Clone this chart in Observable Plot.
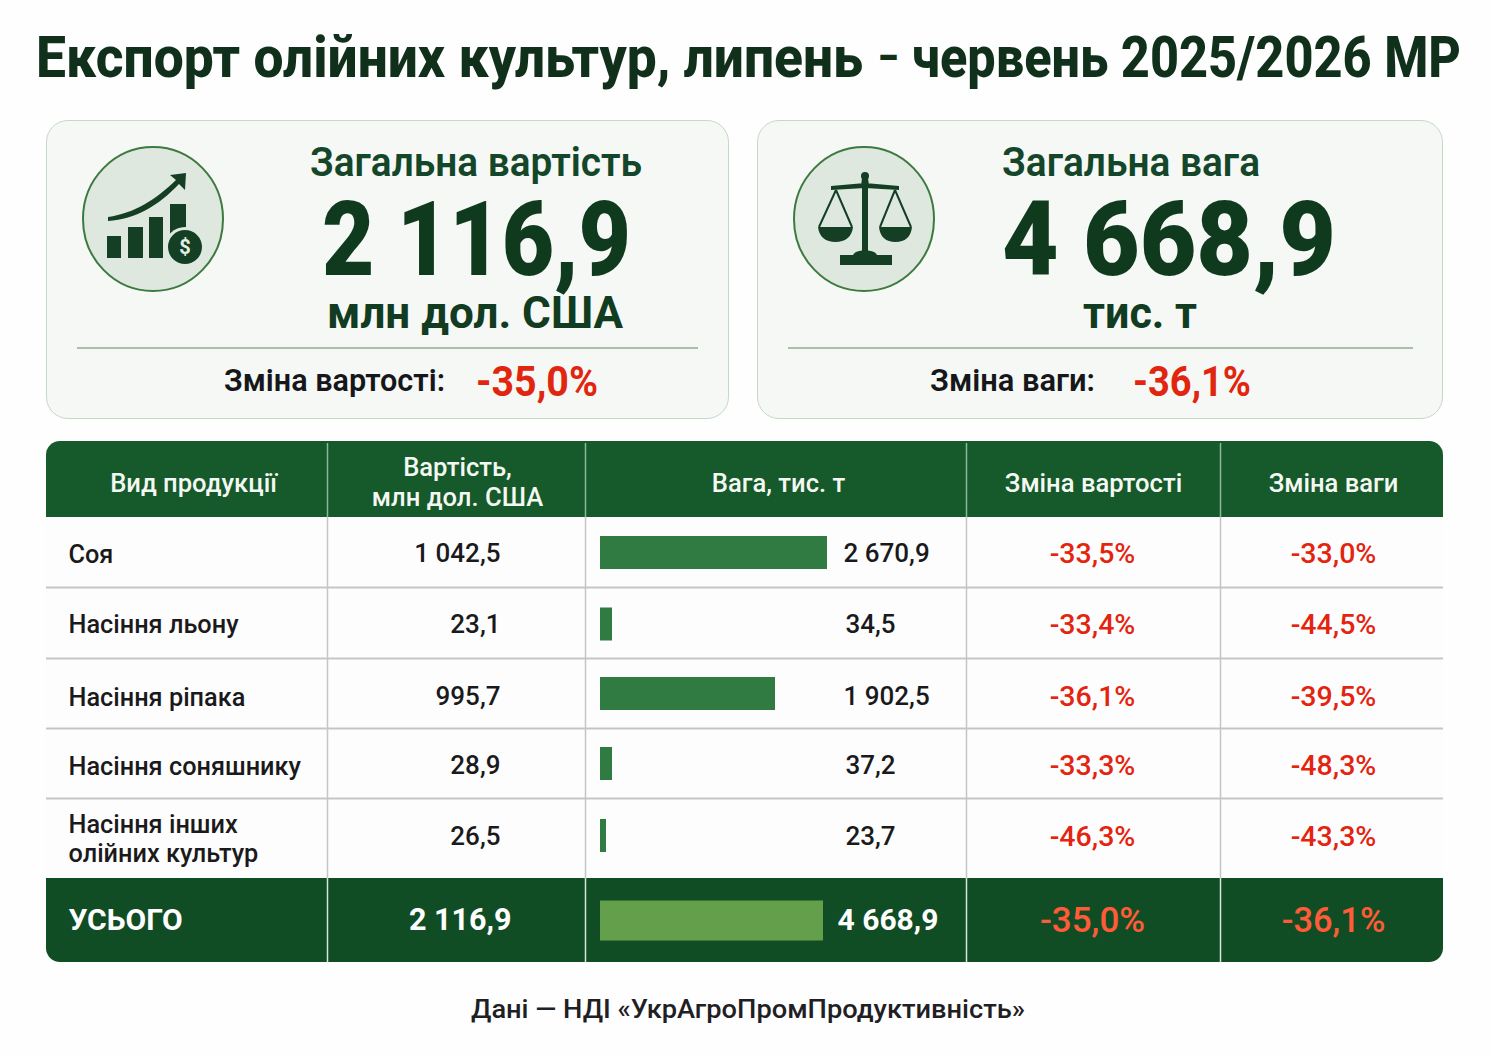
<!DOCTYPE html>
<html lang="uk"><head><meta charset="utf-8">
<script src="https://cdn.jsdelivr.net/npm/d3@7"></script>
<script src="https://cdn.jsdelivr.net/npm/@observablehq/plot@0.6"></script>
<style>
html,body{margin:0;padding:0;background:#fefefe;width:1491px;height:1055px;overflow:hidden;font-family:Roboto,sans-serif}
#page{position:relative;width:1491px;height:1055px}
.t{position:absolute;white-space:nowrap;transform-origin:left center;line-height:1}
.card{position:absolute;box-sizing:border-box;background:#f5f8f4;border:1.5px solid #c6d8c6;border-radius:22px}
.sep{position:absolute;height:1.5px;background:#a9bfa9}
#table{position:absolute;left:46px;top:441px;width:1397px;height:521px;border-radius:14px;overflow:hidden}
#table svg{display:block}
.icon{position:absolute;left:0;top:0}
</style></head><body><div id="page"></div>
<script>
// Categories and values
const products = ["Соя","Насіння льону","Насіння ріпака","Насіння соняшнику","Насіння інших\nолійних культур"];
const values = ["1 042,5","23,1","995,7","28,9","26,5"];
const weights = ["2 670,9","34,5","1 902,5","37,2","23,7"];
const barLengths = [227,12,175,12,6];     // bar lengths as drawn in the picture (they are not proportional to the labels)
const valueChanges = ["-33,5%","-33,4%","-36,1%","-33,3%","-46,3%"];
const weightChanges = ["-33,0%","-44,5%","-39,5%","-48,3%","-43,3%"];
const totalLabel = "УСЬОГО", totalValue = "2 116,9", totalWeight = "4 668,9", totalBar = 223, totalValueChange = "-35,0%", totalWeightChange = "-36,1%";
const headers = ["Вид продукції","Вартість,\nмлн дол. США","Вага, тис. т","Зміна вартості","Зміна ваги"];

// Layout of the table, separate from the data
const rowHeights = [76,70,71,70,70,80,84];
const rowEdges = d3.cumsum([0,...rowHeights]);
const tableW = 1397, tableH = 521, barOrigin = 554;
const colEdges = [281,539,920,1174].map(d => d - barOrigin);
const anchors = {name:22-barOrigin, value:454-barOrigin, weight:797-barOrigin, total:465-barOrigin, vc:1046-barOrigin, wc:1287-barOrigin, head:[147-barOrigin,411-barOrigin,732-barOrigin,1047-barOrigin,1287-barOrigin]};
const center = i => (rowEdges[i]+rowEdges[i+1])/2;
const textNudge = [1,2,3,2,-2], barNudge = [0,1,0,0,-3], weightOffsets = [0,2,0,2,2], nameNudge = [1,1,3,2,0];

const rows = products.map((name,i)=>({name,value:values[i],weight:weights[i],bar:barLengths[i],vc:valueChanges[i],wc:weightChanges[i],
  y:center(i+1)+textNudge[i],ny:center(i+1)+nameNudge[i],by:center(i+1)+barNudge[i],wx:anchors.weight+weightOffsets[i]}));
const total = [{y:center(6),bar:totalBar}];
const head = headers.map((h,i)=>({h,x:anchors.head[i],y:center(0)+ (i==1?2:3)}));
const bands = [{y1:rowEdges[0],y2:rowEdges[1],f:"#16592b"},{y1:rowEdges[1],y2:rowEdges[6],f:"#fefdfe"},{y1:rowEdges[6],y2:rowEdges[7],f:"#114d24"}];
const gridY = rowEdges.slice(2,6);
const dark = "#1a1a1c", red = "#e3240f", lightRed = "#ff5b38";

const chart = Plot.plot({
  width:tableW, height:tableH, margin:0,
  style:{background:"transparent",fontFamily:"Roboto,sans-serif",overflow:"hidden"},
  x:{axis:null,domain:[-barOrigin,tableW-barOrigin],range:[0,tableW]},
  y:{axis:null,domain:[0,tableH],range:[0,tableH]},
  marks:[
    Plot.rectY(bands,{y1:"y1",y2:"y2",fill:d=>d.f}),
    Plot.ruleY(gridY,{stroke:"#c5c5c8",strokeWidth:2}),
    Plot.ruleX(colEdges,{y1:rowEdges[1],y2:rowEdges[6],stroke:"#c5c5c8",strokeWidth:1.5}),
    Plot.ruleX(colEdges,{y1:2,y2:rowEdges[1],stroke:"#8fb59a",strokeWidth:1.5}),
    Plot.ruleX(colEdges,{y1:rowEdges[6],y2:rowEdges[7],stroke:"#d9e4da",strokeWidth:1.5}),
    Plot.ruleY(rows,{y:"by",x1:0,x2:"bar",stroke:"#2f7b41",strokeWidth:33}),
    Plot.ruleY(total,{y:"y",x1:0,x2:"bar",stroke:"#649f4c",strokeWidth:40}),
    Plot.text(head,{x:"x",y:"y",text:"h",fill:"#f4f8f2",fontSize:25.6,fontWeight:500,lineHeight:1.15}),
    Plot.text(rows,{x:anchors.name,y:"ny",text:"name",textAnchor:"start",fill:dark,fontSize:25.3,fontWeight:500,lineHeight:1.15}),
    Plot.text(rows,{x:anchors.value,y:"y",text:"value",textAnchor:"end",fill:dark,fontSize:26,fontWeight:500}),
    Plot.text(rows,{x:"wx",y:"y",text:"weight",textAnchor:"start",fill:dark,fontSize:26,fontWeight:500}),
    Plot.text(rows,{x:anchors.vc,y:"y",text:"vc",fill:red,fontSize:28.5,fontWeight:500}),
    Plot.text(rows,{x:anchors.wc,y:"y",text:"wc",fill:red,fontSize:28.5,fontWeight:500}),
    Plot.text(total,{x:anchors.name,y:"y",text:()=>totalLabel,textAnchor:"start",fill:"#fff",fontSize:30,fontWeight:700}),
    Plot.text(total,{x:anchors.total,y:"y",text:()=>totalValue,textAnchor:"end",fill:"#fff",fontSize:30.5,fontWeight:700}),
    Plot.text(total,{x:anchors.weight-6,y:"y",text:()=>totalWeight,textAnchor:"start",fill:"#fff",fontSize:30,fontWeight:700}),
    Plot.text(total,{x:anchors.vc,y:"y",text:()=>totalValueChange,fill:lightRed,fontSize:35,fontWeight:500}),
    Plot.text(total,{x:anchors.wc,y:"y",text:()=>totalWeightChange,fill:lightRed,fontSize:34.5,fontWeight:500})
  ]
});

const page = document.getElementById("page");
function box(cls,l,tp,w,h){const e=document.createElement("div");e.className=cls;e.style.cssText=`left:${l}px;top:${tp}px;width:${w}px;${h?`height:${h}px;`:""}`;page.appendChild(e);return e;}
// text fitted horizontally to [x0,x1], vertically centred on cy
function txt(s,x0,x1,cy,size,weight,color){
  const e=document.createElement("div");e.className="t";e.textContent=s;
  e.style.cssText=`left:${x0}px;top:${cy-size/2}px;font-size:${size}px;font-weight:${weight};color:${color}`;
  page.appendChild(e);
  e.style.transform=`scaleX(${(x1-x0)/e.getBoundingClientRect().width})`;
}
box("card",46,120,683,299);
box("card",757,120,686,299);
box("sep",77,347,621);
box("sep",788,347,625);

const deep="#103a1e", titleInk="#10301b";
txt("Експорт олійних культур, липень",36,863,57,58,800,titleInk);
txt("–",878,898,58,44,800,titleInk);
txt("червень 2025/2026 МР",912,1461,57,58,800,titleInk);
txt("Загальна вартість",310,642,163,40,600,"#14462a");
txt("2 116,9",322,631,239,103,900,deep);
txt("млн дол. США",327,623,313,44,700,"#123c21");
txt("Зміна вартості:",224,445,380,32,600,"#15171a");
txt("-35,0%",476,598,382,42,700,"#e1260f");
txt("Загальна вага",1002,1260,163,40,600,"#14462a");
txt("4 668,9",1002,1336,239,103,900,deep);
txt("тис. т",1083,1197,313,44,700,"#123c21");
txt("Зміна ваги:",930,1095,380,32,600,"#15171a");
txt("-36,1%",1133,1251,382,42,700,"#e1260f");
txt("Дані — НДІ «УкрАгроПромПродуктивність»",471,1025,1009,26,500,"#1e2024");

page.appendChild(document.createRange().createContextualFragment(`
<svg class="icon" width="1491" height="430" aria-hidden="true">
 <g fill="#dfe8de" stroke="#3d7a3f" stroke-width="2"><ellipse cx="153" cy="219" rx="70" ry="72"/><ellipse cx="864" cy="219" rx="70" ry="72"/></g>
 <g fill="#153f24">
  <path d="M107 236h14v22h-14zM128 227h15v31h-15zM149 217h14v41h-14zM170 204h16v32h-16z"/>
  <path d="M108 217 C135 213 155 200 176 180 L170 175 L186 173 L185 190 L179 184 C158 206 136 219 108 221Z"/>
  <circle cx="185" cy="247" r="20" fill="#dfe8de" stroke="none"/><circle cx="185" cy="247" r="17"/>
 </g>
 <text x="185" y="254" text-anchor="middle" font-family="Roboto" font-size="20" font-weight="700" fill="#e6efe6">$</text>
 <g fill="#153f24" stroke="none">
  <circle cx="865" cy="176" r="4"/><path d="M862 178h6l1 8h-8zM862 186h6v67h-6zM831 186 L865 183 L899 186 L899 190 L865 188 L831 190Z"/>
  <path d="M818 227h35c-1 10-8 15-17.500 15s-16.500-5-17.500-15zM879 227h33c-1 10-7 15-16.500 15s-15.500-5-16.500-15z"/>
  <path d="M853 255c2-4 6-4 12-5 6 1 10 1 12 5h15v10h-52v-10z"/>
 </g>
 <g fill="none" stroke="#153f24" stroke-width="2"><path d="M836 190 L819 227M836 190 L852 227M895 190 L880 227M895 190 L911 227"/></g>
</svg>`));

const wrap=document.createElement("div");wrap.id="table";wrap.appendChild(chart);page.appendChild(wrap);
</script></body></html>
